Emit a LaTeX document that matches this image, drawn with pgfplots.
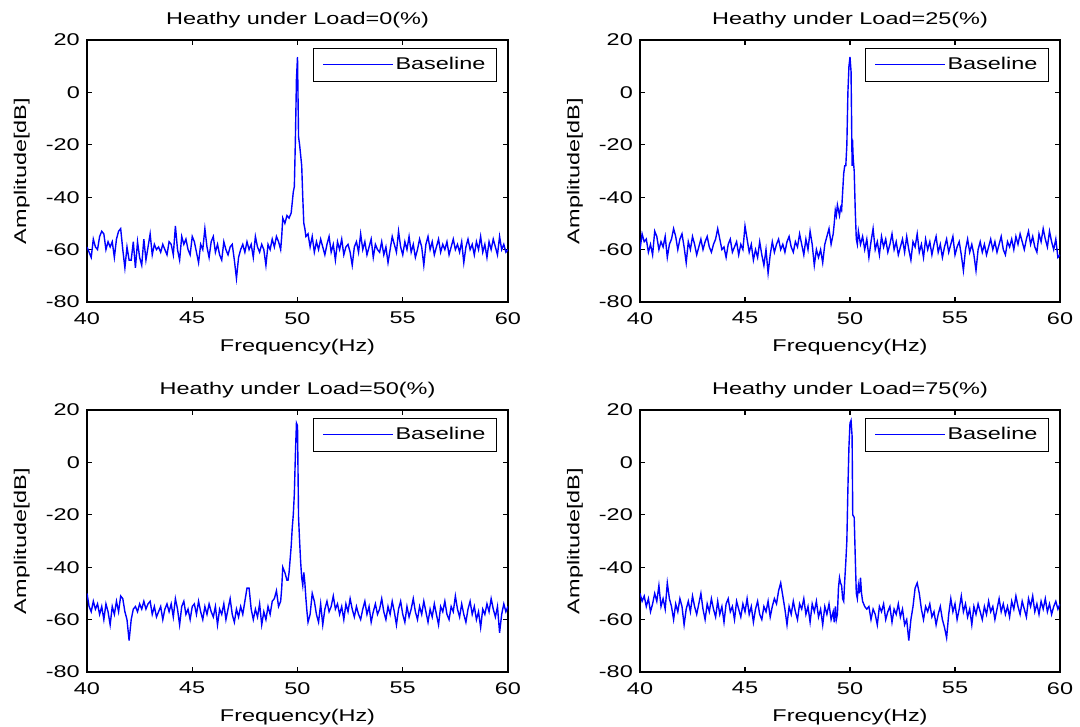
\documentclass[border=0pt]{standalone}
\usepackage{fontspec}
\setmainfont{Liberation Sans}[FakeStretch=1.38]
\usepackage{pgfplots}
\pgfplotsset{compat=1.18}
\definecolor{mblue}{RGB}{0,0,255}
\pgfplotsset{
  panel/.style={
    scale only axis, width=421pt, height=262pt,
    xmin=40, xmax=60, ymin=-80, ymax=20,
    xtick={40,45,50,55,60}, xticklabels={40,45,50,55,60},
    ytick={-80,-60,-40,-20,0,20}, yticklabels={-80,-60,-40,-20,0,20},
    tick align=inside, tick pos=both, major tick length=5pt,
    axis line style={line width=1.2pt}, every tick/.style={line width=1.2pt, black},
    xticklabel style={inner sep=0pt, yshift=-10pt},
    yticklabel style={inner sep=0pt, xshift=-7pt},
    xlabel={Frequency(Hz)}, ylabel={Amplitude[dB]},
    every axis x label/.style={at={(axis description cs:0.5,-0.172)}, anchor=center},
    every axis y label/.style={at={(axis description cs:-0.155,0.5)}, anchor=center, rotate=90},
    every axis title/.style={at={(axis description cs:0.5,1.076)}, anchor=center},
    legend style={at={(1,1)}, anchor=north east, xshift=-11pt, yshift=-8pt, draw=black, line width=1pt,
      inner xsep=9pt, inner ysep=7pt, cells={anchor=west}},
    legend image code/.code={\draw[#1, line width=1pt] (0pt,0pt) -- (70pt,0pt);},
  },
  sig/.style={mblue, line width=1.4pt, mark=none},
}
\begin{document}
\fontsize{17pt}{20pt}\selectfont
\begin{tikzpicture}
\useasboundingbox (0,0) rectangle (1080pt,727pt);
% ---------------- Load 0 ----------------
\begin{axis}[panel, at={(87pt,425pt)}, anchor=south west, title={Heathy under Load=0(\%)}]
\addplot[sig] coordinates {
(40.0,-59)(40.1,-61)(40.2,-63)(40.3,-56)(40.4,-59)(40.5,-60)(40.6,-55)(40.7,-53)(40.8,-54)(40.9,-60)
(41.0,-57)(41.1,-59)(41.2,-57)(41.3,-63)(41.4,-56)(41.5,-53)(41.6,-52)(41.7,-60)(41.8,-67)(41.9,-59)
(42.0,-64)(42.1,-64)(42.2,-57)(42.3,-67)(42.4,-57)(42.5,-63)(42.6,-66)(42.7,-56)(42.8,-64)(42.9,-59)
(43.0,-54)(43.1,-62)(43.2,-58)(43.3,-60)(43.4,-59)(43.5,-61)(43.6,-58)(43.7,-60)(43.8,-62)(43.9,-57)
(44.0,-58)(44.1,-62)(44.2,-51)(44.3,-60)(44.4,-64)(44.5,-55)(44.6,-58)(44.7,-56)(44.8,-60)(44.9,-62)
(45.0,-55)(45.1,-57)(45.2,-61)(45.3,-65)(45.4,-58)(45.5,-60)(45.6,-52)(45.7,-59)(45.8,-63)(45.9,-57)
(46.0,-55)(46.1,-61)(46.2,-58)(46.3,-62)(46.4,-64)(46.5,-57)(46.6,-60)(46.7,-62)(46.8,-59)(46.9,-58)
(47.0,-64)(47.1,-71)(47.2,-63)(47.3,-60)(47.4,-58)(47.5,-61)(47.6,-57)(47.7,-60)(47.8,-58)(47.9,-63)
(48.0,-55)(48.1,-59)(48.2,-61)(48.3,-58)(48.4,-60)(48.5,-66)(48.6,-58)(48.7,-60)(48.8,-56)(48.9,-59)
(49.0,-55)(49.1,-57)(49.2,-60)(49.25,-55)(49.3,-48)(49.4,-50)(49.5,-47)(49.6,-48)(49.7,-46)(49.75,-42)
(49.8,-38)(49.85,-36)(49.9,-18)(49.95,5)(50.0,13.5)(50.05,-17)(50.1,-20)(50.15,-24)(50.2,-28)(50.25,-40)
(50.3,-50)(50.35,-52)(50.4,-55)(50.5,-54)(50.6,-59)(50.7,-55)(50.8,-61)(50.9,-57)
(51.0,-60)(51.1,-56)(51.2,-59)(51.3,-62)(51.4,-58)(51.5,-55)(51.6,-61)(51.7,-58)(51.8,-64)(51.9,-57)
(52.0,-60)(52.1,-56)(52.2,-62)(52.3,-59)(52.4,-58)(52.5,-61)(52.6,-66)(52.7,-59)(52.8,-57)(52.9,-61)
(53.0,-54)(53.1,-60)(53.2,-57)(53.3,-62)(53.4,-59)(53.5,-56)(53.6,-63)(53.7,-58)(53.8,-60)(53.9,-61)
(54.0,-57)(54.1,-62)(54.2,-59)(54.3,-65)(54.4,-60)(54.5,-55)(54.6,-58)(54.7,-61)(54.8,-53)(54.9,-59)
(55.0,-62)(55.1,-57)(55.2,-60)(55.3,-55)(55.4,-61)(55.5,-58)(55.6,-63)(55.7,-60)(55.8,-56)(55.9,-59)
(56.0,-66)(56.1,-58)(56.2,-55)(56.3,-60)(56.4,-57)(56.5,-62)(56.6,-59)(56.7,-56)(56.8,-61)(56.9,-58)
(57.0,-60)(57.1,-57)(57.2,-62)(57.3,-59)(57.4,-56)(57.5,-60)(57.6,-58)(57.7,-61)(57.8,-57)(57.9,-65)
(58.0,-59)(58.1,-56)(58.2,-60)(58.3,-58)(58.4,-62)(58.5,-57)(58.6,-60)(58.7,-55)(58.8,-61)(58.9,-58)
(59.0,-63)(59.1,-57)(59.2,-60)(59.3,-56)(59.4,-59)(59.5,-62)(59.6,-55)(59.7,-60)(59.8,-58)(59.9,-61)
(60.0,-60)};
\addlegendentry{Baseline}
\end{axis}
% ---------------- Load 25 ----------------
\begin{axis}[panel, at={(640pt,425pt)}, anchor=south west, width=420pt, title={Heathy under Load=25(\%)}]
\addplot[sig] coordinates {
(40.0,-60)(40.1,-54)(40.2,-57)(40.3,-56)(40.4,-61)(40.5,-58)(40.6,-62)(40.7,-53)(40.8,-55)(40.9,-60)
(41.0,-57)(41.1,-59)(41.2,-55)(41.3,-63)(41.4,-58)(41.5,-56)(41.6,-52)(41.7,-55)(41.8,-60)(41.9,-56)
(42.0,-54)(42.1,-59)(42.2,-65)(42.3,-57)(42.4,-60)(42.5,-55)(42.6,-58)(42.7,-62)(42.8,-59)(42.9,-56)
(43.0,-60)(43.1,-57)(43.2,-55)(43.3,-59)(43.4,-61)(43.5,-58)(43.6,-56)(43.7,-52)(43.8,-56)(43.9,-60)
(44.0,-59)(44.1,-63)(44.2,-58)(44.3,-56)(44.4,-61)(44.5,-59)(44.6,-57)(44.7,-62)(44.8,-58)(44.9,-60)
(45.0,-51)(45.1,-56)(45.2,-61)(45.3,-58)(45.4,-64)(45.5,-60)(45.6,-63)(45.7,-57)(45.8,-62)(45.9,-66)
(46.0,-60)(46.1,-69)(46.2,-62)(46.3,-57)(46.4,-61)(46.5,-58)(46.6,-56)(46.7,-60)(46.8,-58)(46.9,-61)
(47.0,-57)(47.1,-55)(47.2,-59)(47.3,-61)(47.4,-57)(47.5,-59)(47.6,-54)(47.7,-58)(47.8,-62)(47.9,-56)
(48.0,-60)(48.1,-53)(48.2,-58)(48.3,-66)(48.4,-60)(48.5,-63)(48.6,-60)(48.7,-65)(48.8,-58)(48.9,-55)
(49.0,-52)(49.1,-58)(49.2,-54)(49.25,-50)(49.3,-45)(49.35,-47)(49.4,-43)(49.5,-47)(49.55,-44)(49.6,-45)
(49.7,-31)(49.75,-28)(49.8,-28)(49.85,-20)(49.9,0)(49.95,10)(50.0,13.5)(50.05,8)(50.1,-28)(50.12,-18)
(50.15,-25)(50.2,-30)(50.25,-45)(50.3,-56)(50.35,-58)(50.4,-53)(50.5,-58)(50.6,-55)(50.7,-60)(50.8,-56)(50.9,-63)
(51.0,-57)(51.1,-52)(51.2,-60)(51.3,-57)(51.4,-62)(51.5,-55)(51.6,-59)(51.7,-56)(51.8,-61)(51.9,-58)
(52.0,-54)(52.1,-60)(52.2,-57)(52.3,-62)(52.4,-59)(52.5,-56)(52.6,-61)(52.7,-55)(52.8,-60)(52.9,-64)
(53.0,-57)(53.1,-59)(53.2,-54)(53.3,-61)(53.4,-58)(53.5,-63)(53.6,-56)(53.7,-60)(53.8,-57)(53.9,-62)
(54.0,-58)(54.1,-55)(54.2,-61)(54.3,-58)(54.4,-63)(54.5,-59)(54.6,-56)(54.7,-61)(54.8,-58)(54.9,-55)
(55.0,-62)(55.1,-59)(55.2,-57)(55.3,-62)(55.4,-68)(55.5,-60)(55.6,-56)(55.7,-61)(55.8,-58)(55.9,-62)
(56.0,-68)(56.1,-60)(56.2,-57)(56.3,-61)(56.4,-58)(56.5,-62)(56.6,-59)(56.7,-56)(56.8,-60)(56.9,-57)
(57.0,-61)(57.1,-58)(57.2,-55)(57.3,-60)(57.4,-62)(57.5,-57)(57.6,-59)(57.7,-56)(57.8,-60)(57.9,-55)
(58.0,-58)(58.1,-54)(58.2,-57)(58.3,-60)(58.4,-56)(58.5,-53)(58.6,-58)(58.7,-55)(58.8,-59)(58.9,-61)
(59.0,-54)(59.1,-57)(59.2,-52)(59.3,-56)(59.4,-59)(59.5,-53)(59.6,-57)(59.7,-60)(59.8,-56)(59.9,-63)
(60.0,-62)};
\addlegendentry{Baseline}
\end{axis}
% ---------------- Load 50 ----------------
\begin{axis}[panel, at={(87pt,55pt)}, anchor=south west, title={Heathy under Load=50(\%)}]
\addplot[sig] coordinates {
(40.0,-50)(40.1,-55)(40.2,-57)(40.3,-53)(40.4,-56)(40.5,-54)(40.6,-58)(40.7,-55)(40.8,-60)(40.9,-54)
(41.0,-57)(41.1,-62)(41.2,-55)(41.3,-58)(41.4,-53)(41.5,-57)(41.6,-51)(41.7,-52)(41.8,-57)(41.9,-60)
(42.0,-68)(42.1,-60)(42.2,-56)(42.3,-55)(42.4,-57)(42.5,-54)(42.6,-56)(42.7,-53)(42.8,-56)(42.9,-54)
(43.0,-53)(43.1,-58)(43.2,-55)(43.3,-59)(43.4,-57)(43.5,-55)(43.6,-60)(43.7,-56)(43.8,-54)(43.9,-57)
(44.0,-54)(44.1,-59)(44.2,-52)(44.3,-56)(44.4,-62)(44.5,-55)(44.6,-53)(44.7,-58)(44.8,-56)(44.9,-60)
(45.0,-55)(45.1,-54)(45.2,-58)(45.3,-53)(45.4,-57)(45.5,-60)(45.6,-55)(45.7,-58)(45.8,-54)(45.9,-57)
(46.0,-59)(46.1,-55)(46.2,-62)(46.3,-56)(46.4,-58)(46.5,-54)(46.6,-60)(46.7,-56)(46.8,-52)(46.9,-58)
(47.0,-61)(47.1,-56)(47.2,-59)(47.3,-55)(47.4,-58)(47.5,-53)(47.6,-48)(47.7,-48)(47.8,-56)(47.9,-60)
(48.0,-56)(48.1,-59)(48.2,-54)(48.3,-62)(48.4,-57)(48.5,-60)(48.6,-55)(48.7,-58)(48.8,-53)(48.9,-52)
(49.0,-49)(49.1,-55)(49.2,-53)(49.25,-48)(49.3,-40)(49.4,-42)(49.5,-45)(49.55,-45)(49.6,-42)(49.7,-32)
(49.75,-25)(49.8,-20)(49.85,-12)(49.9,3)(49.95,15)(50.0,14)(50.05,-21)(50.1,-30)(50.15,-38)(50.2,-44)
(50.25,-47)(50.3,-42)(50.35,-46)(50.4,-52)(50.45,-57)(50.5,-61)(50.6,-58)(50.7,-50)(50.8,-53)(50.9,-58)
(51.0,-61)(51.1,-54)(51.2,-62)(51.3,-56)(51.4,-53)(51.5,-57)(51.6,-55)(51.7,-51)(51.8,-56)(51.9,-54)
(52.0,-58)(52.1,-55)(52.2,-60)(52.3,-54)(52.4,-57)(52.5,-52)(52.6,-56)(52.7,-59)(52.8,-55)(52.9,-58)
(53.0,-60)(53.1,-56)(53.2,-53)(53.3,-58)(53.4,-55)(53.5,-61)(53.6,-57)(53.7,-54)(53.8,-58)(53.9,-56)
(54.0,-52)(54.1,-57)(54.2,-60)(54.3,-55)(54.4,-58)(54.5,-53)(54.6,-57)(54.7,-62)(54.8,-56)(54.9,-53)
(55.0,-58)(55.1,-61)(55.2,-55)(55.3,-59)(55.4,-56)(55.5,-52)(55.6,-57)(55.7,-60)(55.8,-55)(55.9,-58)
(56.0,-53)(56.1,-57)(56.2,-61)(56.3,-56)(56.4,-59)(56.5,-54)(56.6,-58)(56.7,-62)(56.8,-55)(56.9,-57)
(57.0,-53)(57.1,-58)(57.2,-60)(57.3,-55)(57.4,-57)(57.5,-51)(57.6,-56)(57.7,-59)(57.8,-54)(57.9,-58)
(58.0,-61)(58.1,-56)(58.2,-53)(58.3,-58)(58.4,-55)(58.5,-60)(58.6,-57)(58.7,-63)(58.8,-56)(58.9,-58)
(59.0,-54)(59.1,-57)(59.2,-52)(59.3,-56)(59.4,-59)(59.5,-55)(59.6,-65)(59.7,-58)(59.8,-54)(59.9,-57)
(60.0,-55)};
\addlegendentry{Baseline}
\end{axis}
% ---------------- Load 75 ----------------
\begin{axis}[panel, at={(640pt,55pt)}, anchor=south west, width=420pt, title={Heathy under Load=75(\%)}]
\addplot[sig] coordinates {
(40.0,-50)(40.1,-53)(40.2,-51)(40.3,-55)(40.4,-52)(40.5,-57)(40.6,-54)(40.7,-50)(40.8,-53)(40.9,-47)
(41.0,-55)(41.1,-52)(41.2,-56)(41.3,-46)(41.4,-52)(41.5,-55)(41.6,-60)(41.7,-54)(41.8,-57)(41.9,-52)
(42.0,-55)(42.1,-62)(42.2,-56)(42.3,-53)(42.4,-57)(42.5,-51)(42.6,-55)(42.7,-58)(42.8,-54)(42.9,-50)
(43.0,-56)(43.1,-60)(43.2,-54)(43.3,-57)(43.4,-52)(43.5,-56)(43.6,-59)(43.7,-53)(43.8,-58)(43.9,-55)
(44.0,-61)(44.1,-54)(44.2,-52)(44.3,-57)(44.4,-55)(44.5,-60)(44.6,-53)(44.7,-56)(44.8,-59)(44.9,-54)
(45.0,-57)(45.1,-52)(45.2,-58)(45.3,-55)(45.4,-61)(45.5,-56)(45.6,-53)(45.7,-58)(45.8,-60)(45.9,-55)
(46.0,-57)(46.1,-53)(46.2,-59)(46.3,-55)(46.4,-52)(46.5,-54)(46.6,-49)(46.7,-46)(46.8,-51)(46.9,-56)
(47.0,-62)(47.1,-55)(47.2,-58)(47.3,-53)(47.4,-57)(47.5,-60)(47.6,-54)(47.7,-56)(47.8,-52)(47.9,-58)
(48.0,-55)(48.1,-61)(48.2,-54)(48.3,-57)(48.4,-53)(48.5,-59)(48.6,-56)(48.7,-62)(48.8,-55)(48.9,-58)
(49.0,-54)(49.1,-60)(49.2,-57)(49.25,-61)(49.3,-55)(49.35,-60)(49.4,-58)(49.45,-48)(49.5,-44)(49.55,-46)
(49.6,-47)(49.65,-52)(49.7,-53)(49.75,-45)(49.8,-38)(49.85,-30)(49.9,-10)(49.95,6)(50.0,15)(50.05,16)
(50.1,10)(50.13,-20)(50.2,-21)(50.25,-36)(50.3,-50)(50.35,-52)(50.4,-47)(50.45,-50)(50.5,-44)(50.55,-50)
(50.6,-53)(50.7,-55)(50.8,-56)(50.9,-55)
(51.0,-60)(51.1,-56)(51.2,-58)(51.3,-62)(51.4,-55)(51.5,-57)(51.6,-54)(51.7,-60)(51.8,-57)(51.9,-55)
(52.0,-61)(52.1,-56)(52.2,-58)(52.3,-54)(52.4,-59)(52.5,-56)(52.6,-62)(52.7,-60)(52.8,-68)(52.9,-60)
(53.0,-55)(53.1,-48)(53.2,-46)(53.3,-50)(53.4,-56)(53.5,-60)(53.6,-55)(53.7,-57)(53.8,-54)(53.9,-59)
(54.0,-57)(54.1,-62)(54.2,-58)(54.3,-55)(54.4,-60)(54.5,-63)(54.6,-67)(54.7,-58)(54.8,-52)(54.9,-57)
(55.0,-54)(55.1,-60)(55.2,-56)(55.3,-51)(55.4,-57)(55.5,-54)(55.6,-59)(55.7,-56)(55.8,-62)(55.9,-55)
(56.0,-58)(56.1,-54)(56.2,-57)(56.3,-60)(56.4,-55)(56.5,-58)(56.6,-53)(56.7,-57)(56.8,-55)(56.9,-60)
(57.0,-56)(57.1,-52)(57.2,-57)(57.3,-54)(57.4,-58)(57.5,-55)(57.6,-59)(57.7,-53)(57.8,-56)(57.9,-51)
(58.0,-55)(58.1,-58)(58.2,-53)(58.3,-56)(58.4,-59)(58.5,-52)(58.6,-55)(58.7,-51)(58.8,-57)(58.9,-54)
(59.0,-58)(59.1,-53)(59.2,-56)(59.3,-52)(59.4,-57)(59.5,-54)(59.6,-58)(59.7,-55)(59.8,-53)(59.9,-56)
(60.0,-54)};
\addlegendentry{Baseline}
\end{axis}
\end{tikzpicture}
\end{document}
